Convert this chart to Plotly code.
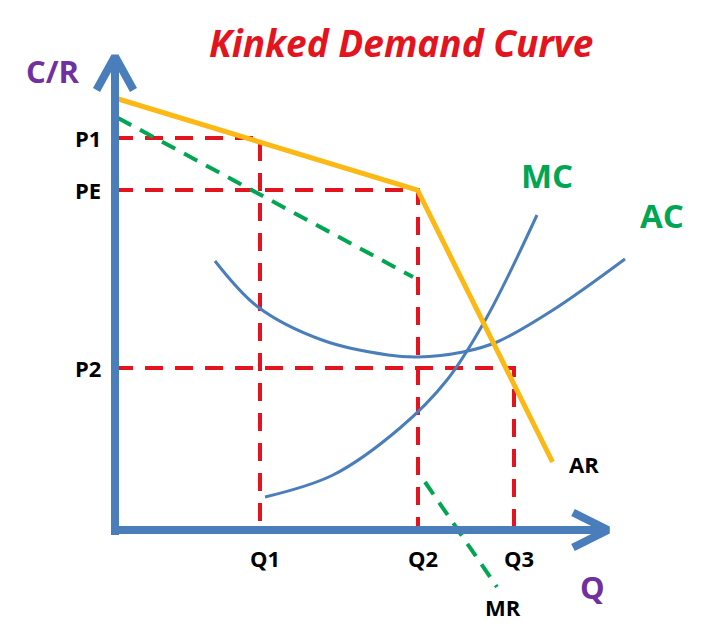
"""
Kinked demand curve diagram (oligopoly), drawn with plotly graph objects.
Quantity runs along x, cost/revenue along y, both in arbitrary units.
"""

import plotly.graph_objects as go

# Key quantities and prices on the diagram
q_ticks = ["Q1", "Q2", "Q3"]
q_values = [29, 60.6, 79.8]
p_ticks = ["P1", "PE", "P2"]
p_values = [78.4, 68, 32.4]

# Average revenue (kinked demand), two straight pieces meeting at (Q2, PE)
ar_q = [0, 60.5, 87.5]
ar_p = [86.4, 68, 13.6]

# Marginal revenue, with the gap below the kink
mr_upper_q = [0.6, 59.6]
mr_upper_p = [82.4, 50.6]
mr_lower_q = [62, 76.4]
mr_lower_p = [9.6, -11.4]

# Cost curves
ac_q = [20, 28.6, 41.4, 54.6, 60.6, 69.6, 76.4, 87.6, 102]
ac_p = [53.8, 44.6, 38, 35, 34.6, 35.6, 37.6, 44, 54.2]
mc_q = [30, 43.6, 57, 66.4, 74.4, 84.4]
mc_p = [6.6, 11, 20.4, 30, 42.6, 63]

# Axis extent
q_max = 98.6
p_max = 94.7

BLUE = "#4a7ebb"
RED = "#e3141e"
GOLD = "#fcb814"
GREEN = "#00a651"
PURPLE = "#7030a0"


def add_line(fig, x, y, color, width, dash="solid", shape="linear"):
    fig.add_trace(go.Scatter(x=x, y=y, mode="lines",
                             line=dict(color=color, width=width,
                                       dash=dash, shape=shape),
                             hoverinfo="skip", showlegend=False))


fig = go.Figure()

# red dashed guide lines from each price to its quantity
for q, p in zip(q_values, p_values):
    add_line(fig, [0, q, q], [p, p, 0], RED, 4, dash="18px,12px")

# cost curves
add_line(fig, ac_q, ac_p, BLUE, 3, shape="spline")
add_line(fig, mc_q, mc_p, BLUE, 3, shape="spline")

# marginal revenue
add_line(fig, mr_upper_q, mr_upper_p, GREEN, 4, dash="15px,10px")
add_line(fig, mr_lower_q, mr_lower_p, GREEN, 4, dash="15px,10px")

# average revenue
add_line(fig, ar_q, ar_p, GOLD, 5)

# axes with arrow heads
add_line(fig, [-0.8, q_max], [0, 0], BLUE, 8)
add_line(fig, [0, 0], [-1, p_max], BLUE, 8)
add_line(fig, [q_max - 7, q_max, q_max - 7], [3.5, 0, -3.5], BLUE, 8)
add_line(fig, [-3.7, 0, 3.7], [p_max - 6.7, p_max, p_max - 6.7], BLUE, 8)

label_font = dict(family="Open Sans", size=22, color="black")
for name, p in zip(p_ticks, p_values):
    fig.add_annotation(x=-2.4, y=p, text=f"<b>{name}</b>", showarrow=False,
                       xanchor="right", font=label_font)
for name, q in zip(q_ticks, q_values):
    fig.add_annotation(x=q + 1, y=-5.6, text=f"<b>{name}</b>",
                       showarrow=False, font=label_font)

fig.add_annotation(x=93.8, y=13.2, text="<b>AR</b>", showarrow=False,
                   font=label_font)
fig.add_annotation(x=77.6, y=-15.4, text="<b>MR</b>", showarrow=False,
                   font=label_font)

green_font = dict(family="Open Sans", size=33, color=GREEN)
fig.add_annotation(x=86.4, y=71, text="<b>MC</b>", showarrow=False,
                   font=green_font)
fig.add_annotation(x=109.4, y=63, text="<b>AC</b>", showarrow=False,
                   font=green_font)

purple_font = dict(family="Open Sans", size=31, color=PURPLE)
fig.add_annotation(x=-12.4, y=91.8, text="<b>C/R</b>", showarrow=False,
                   font=purple_font)
fig.add_annotation(x=95.4, y=-11.4, text="<b>Q</b>", showarrow=False,
                   font=purple_font)

fig.add_annotation(x=57.2, y=97.6, xanchor="center", yanchor="middle",
                   text="<b><i>Kinked Demand Curve</i></b>", showarrow=False,
                   font=dict(family="Open Sans", size=37, color=RED))

# the page body adds an 8px margin, so the figure is 8px smaller
fig.update_xaxes(range=[-21.4, 121], visible=False)
fig.update_yaxes(range=[-22.6, 104.4], visible=False)
fig.update_layout(width=712, height=635, margin=dict(l=0, r=0, t=0, b=0),
                  plot_bgcolor="white", paper_bgcolor="white",
                  hovermode=False)

fig.write_html("out.html")
